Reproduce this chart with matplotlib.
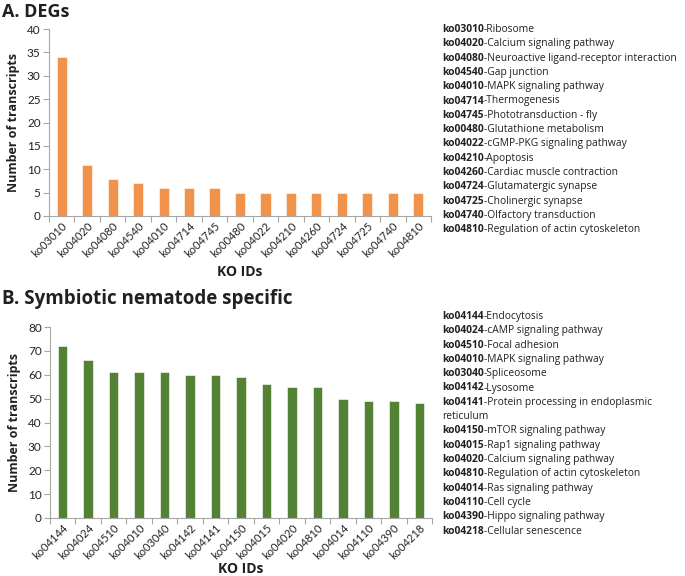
import matplotlib
matplotlib.use("Agg")
import matplotlib.pyplot as plt

a_ids = ["ko03010", "ko04020", "ko04080", "ko04540", "ko04010", "ko04714", "ko04745",
         "ko00480", "ko04022", "ko04210", "ko04260", "ko04724", "ko04725", "ko04740", "ko04810"]
a_vals = [34, 11, 8, 7, 6, 6, 6, 5, 5, 5, 5, 5, 5, 5, 5]
a_names = ["Ribosome", "Calcium signaling pathway", "Neuroactive ligand-receptor interaction",
           "Gap junction", "MAPK signaling pathway", "Thermogenesis", "Phototransduction - fly",
           "Glutathione metabolism", "cGMP-PKG signaling pathway", "Apoptosis",
           "Cardiac muscle contraction", "Glutamatergic synapse", "Cholinergic synapse",
           "Olfactory transduction", "Regulation of actin cytoskeleton"]

b_ids = ["ko04144", "ko04024", "ko04510", "ko04010", "ko03040", "ko04142", "ko04141",
         "ko04150", "ko04015", "ko04020", "ko04810", "ko04014", "ko04110", "ko04390", "ko04218"]
b_vals = [72, 66, 61, 61, 61, 60, 60, 59, 56, 55, 55, 50, 49, 49, 48]
b_names = ["Endocytosis", "cAMP signaling pathway", "Focal adhesion", "MAPK signaling pathway",
           "Spliceosome", "Lysosome", "Protein processing in endoplasmic\nreticulum",
           "mTOR signaling pathway", "Rap1 signaling pathway", "Calcium signaling pathway",
           "Regulation of actin cytoskeleton", "Ras signaling pathway", "Cell cycle",
           "Hippo signaling pathway", "Cellular senescence"]

W, H = 685, 576
fig = plt.figure(figsize=(W / 100, H / 100), dpi=100)

TICKFONT = "Lato"
TXTFONT = "Open Sans"
AXC = "#a6a6a6"
TXTC = "#231f20"


def px_axes(l, t, r, b):
    return fig.add_axes([l / W, 1 - b / H, (r - l) / W, (b - t) / H])


def panel(ax, ids, vals, color, ymax, step, width, l, r, xlabel_y):
    x = list(range(len(ids)))
    ax.bar(x, vals, width=width, color=color, edgecolor="white", linewidth=0.4, zorder=2)
    ax.set_xlim(-0.5, len(ids) - 0.5)
    ax.set_ylim(0, ymax)
    ax.set_yticks(range(0, ymax + 1, step))
    ax.set_xticks([i + 0.5 for i in range(-1, len(ids))], minor=False)
    ax.set_xticklabels([])
    ax.set_xticks(x, minor=True)
    ax.set_xticklabels(ids, minor=True, rotation=45, ha="right", rotation_mode="anchor",
                       fontsize=8, family=TICKFONT, color="#222222")
    ax.tick_params(axis="x", which="minor", length=0, pad=3)
    ax.tick_params(axis="x", which="major", length=4, color=AXC, width=0.8)
    ax.tick_params(axis="y", length=4, color=AXC, width=0.8, pad=2)
    for lbl in ax.get_yticklabels():
        lbl.set_family(TICKFONT)
        lbl.set_fontsize(8.5)
        lbl.set_color("#222222")
    for s in ["top", "right"]:
        ax.spines[s].set_visible(False)
    for s in ["left", "bottom"]:
        ax.spines[s].set_color(AXC)
        ax.spines[s].set_linewidth(0.8)
    ax.set_ylabel("Number of transcripts", family=TXTFONT, fontweight="bold", fontsize=9,
                  labelpad=5, color=TXTC)
    ax.set_xlabel("KO IDs", family=TXTFONT, fontweight="bold", fontsize=10, color=TXTC)
    ax.xaxis.set_label_coords(0.5 * (l + r) / W, 1 - xlabel_y / H, transform=fig.transFigure)
    ax.xaxis.label.set_va("center")


axA = px_axes(49, 29, 431, 216)
panel(axA, a_ids, a_vals, "#f0924a", 40, 5, 0.4, 49, 431, 272)
axB = px_axes(50, 327, 432, 518)
panel(axB, b_ids, b_vals, "#548235", 80, 10, 0.37, 50, 432, 569)

fig.text(2 / W, 1 - 12 / H, "A. DEGs", family=TXTFONT, fontweight="bold", fontsize=13,
         va="center", ha="left", color=TXTC)
fig.text(2 / W, 1 - 299 / H, "B. Symbiotic nematode specific", family=TXTFONT,
         fontweight="bold", fontsize=13.5, va="center", ha="left", color=TXTC)

renderer = fig.canvas.get_renderer()
LFS = 7.4


def legend(ids, names, x0, y0, dy):
    y = y0
    for kid, name in zip(ids, names):
        t = fig.text(x0 / W, 1 - y / H, kid, family=TXTFONT, fontweight="bold", fontsize=LFS,
                     va="baseline", ha="left", color=TXTC)
        bb = t.get_window_extent(renderer)
        lines = name.split("\n")
        fig.text(bb.x1 / W, 1 - y / H, "-" + lines[0], family=TXTFONT, fontsize=LFS,
                 va="baseline", ha="left", color=TXTC)
        y += dy
        for extra in lines[1:]:
            fig.text(x0 / W, 1 - y / H, extra, family=TXTFONT, fontsize=LFS,
                     va="baseline", ha="left", color=TXTC)
            y += dy


legend(a_ids, a_names, 442, 32, 14.3)
legend(b_ids, b_names, 442, 319, 14.3)

fig.savefig("out.png", dpi=100, facecolor="white")
